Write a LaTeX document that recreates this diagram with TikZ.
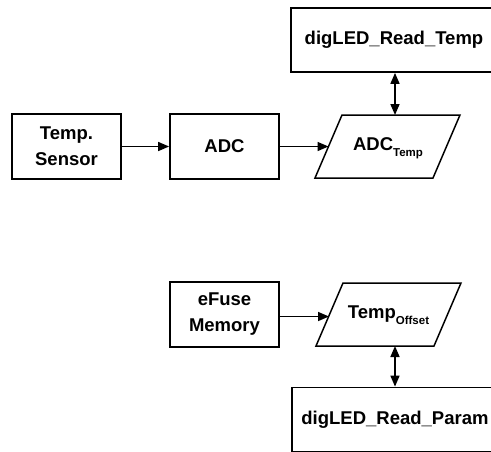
\documentclass[tikz,border=0pt]{standalone}
\usepackage{fontspec}
\setmainfont{Liberation Sans}
\usetikzlibrary{arrows.meta}
\newcommand{\subtxt}[1]{\raisebox{-6pt}{\fontsize{11.5}{11.5}\selectfont #1}}
\begin{document}
\begin{tikzpicture}[x=1pt,y=-1pt,
  every node/.style={font=\fontsize{18.5}{26}\selectfont\bfseries, align=center, inner sep=0pt},
  blk/.style={draw, line width=1.8pt, rectangle, minimum width=109pt, minimum height=65pt},
  bigblk/.style={draw, line width=1.8pt, rectangle, minimum width=206pt, minimum height=64pt},
  para/.style={draw, line width=1.5pt, line join=miter},
  arr/.style={line width=1.6pt, -{Triangle[length=11pt,width=9pt]}},
  darr/.style={line width=1.6pt, {Triangle[length=11pt,width=9pt]}-{Triangle[length=11pt,width=9pt]}}]
\useasboundingbox (0,0) rectangle (491,451);
\clip (0,0) rectangle (491,451);
\fill[white] (0,0) rectangle (491,451);
% top row
\node[bigblk] (rtemp) at (394,40) {digLED\_Read\_Temp};
\node[blk] (sensor) at (66.5,146.5) {Temp.\\Sensor};
\node[blk] (adc) at (224.5,146.5) {ADC};
\draw[para] (342,115) -- (460,115) -- (433,178) -- (315,178) -- cycle;
\node (adct) at (388,148.5) {ADC\subtxt{Temp}};
\coordinate (adcin) at (328.5,146.5);
\coordinate (adctop) at (395,115);
\draw[arr] (sensor.east) -- (sensor.east -| adc.west);
\draw[arr] (adc.east) -- (adcin);
\draw[darr] (rtemp.south -| adctop) -- (adctop);
% bottom row
\node[blk] (efuse) at (224.5,314.5) {eFuse\\Memory};
\draw[para] (343,283) -- (461,283) -- (434,346) -- (316,346) -- cycle;
\node (toff) at (388.5,315.5) {Temp\subtxt{Offset}};
\coordinate (toffin) at (329,316.5);
\coordinate (toffbot) at (395,346);
\node[bigblk] (rparam) at (395,419.5) {digLED\_Read\_Param};
\draw[arr] (efuse.east |- toffin) -- (toffin);
\draw[darr] (toffbot) -- (rparam.north -| toffbot);
\end{tikzpicture}
\end{document}
